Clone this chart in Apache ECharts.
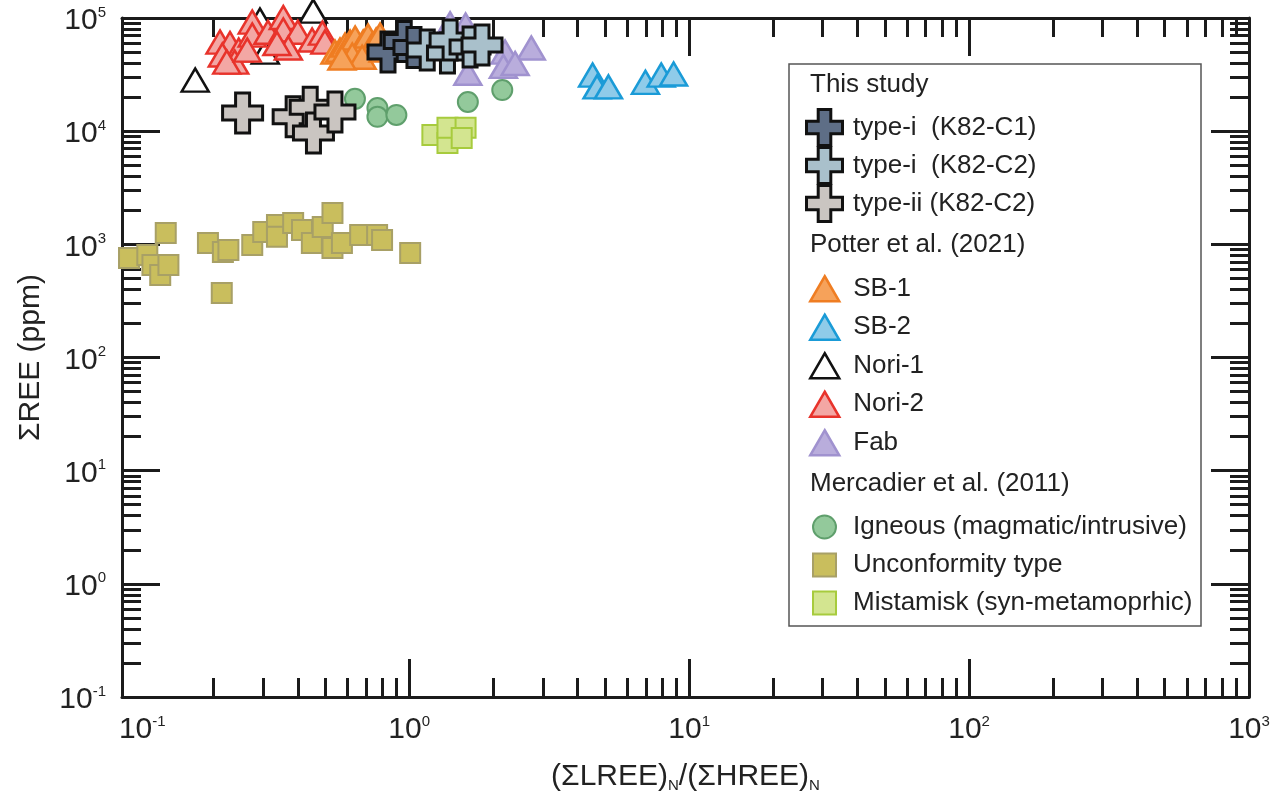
<!DOCTYPE html>
<html>
<head>
<meta charset="utf-8">
<script src="https://cdn.jsdelivr.net/npm/echarts@6/dist/echarts.min.js"></script>
<style>
  html, body { margin: 0; padding: 0; background: #ffffff; }
  #chart { width: 1272px; height: 796px; }
</style>
</head>
<body>
<div id="chart"></div>
<script>
// ---- data: [(ΣLREE)N/(ΣHREE)N, ΣREE ppm] ----
// This study
const typeI_C1 = [[0.84, 50000], [0.96, 62000], [1.04, 55000]];
const typeI_C2 = [[1.16, 52100], [1.37, 49000], [1.40, 63900], [1.65, 55500], [1.82, 57700]];
const typeII_C2 = [[0.254, 14500], [0.385, 13400], [0.443, 16300], [0.455, 9630], [0.543, 14800]];

// Potter et al. (2021)
const sb1 = [[0.543, 50000], [0.566, 52100], [0.590, 57700], [0.615, 61300], [0.641, 66600],
             [0.668, 54300], [0.685, 61300], [0.713, 69300], [0.737, 57700], [0.762, 63900],
             [0.787, 70700], [0.626, 47100], [0.679, 45000], [0.807, 52100], [0.575, 44300]];
const sb2 = [[4.52, 31300], [4.69, 24600], [5.15, 24600], [6.98, 27000], [7.95, 31300], [8.8, 32000]];
const nori1 = [[0.172, 28300], [0.293, 96000], [0.454, 115000], [0.306, 50000]];
const nori2 = [[0.211, 61300], [0.229, 59500], [0.215, 47100], [0.246, 52100], [0.238, 40800],
               [0.275, 92000], [0.275, 70700], [0.313, 74800], [0.355, 101000], [0.355, 78300],
               [0.40, 74800], [0.37, 54300], [0.337, 59500], [0.45, 63900], [0.49, 73600],
               [0.50, 61300], [0.223, 40800], [0.264, 52100]];
const fab = [[1.40, 89000], [1.59, 86700], [2.20, 50000], [2.73, 54300], [2.17, 37300],
             [2.39, 39600], [1.62, 32500]];

// Mercadier et al. (2011)
const igneous = [[0.64, 19300], [0.77, 16000], [0.77, 13400], [0.90, 13900], [1.62, 18100], [2.15, 23100]];
const unconformity = [[0.0998, 757], [0.116, 805], [0.121, 657], [0.129, 536], [0.138, 657],
                      [0.135, 1259], [0.191, 1029], [0.216, 856], [0.226, 892], [0.214, 371],
                      [0.275, 988], [0.301, 1285], [0.337, 1480], [0.337, 1165], [0.385, 1540],
                      [0.414, 1338], [0.449, 1029], [0.491, 1420], [0.532, 1890], [0.532, 929],
                      [0.575, 1029], [0.668, 1208], [0.768, 1208], [0.80, 1094], [1.008, 838]];
const mistamisk = [[1.21, 9250], [1.37, 7860], [1.37, 10700], [1.59, 10700], [1.54, 8700]];

// ---- axes ----
const X_RANGE = [0.0942, 1000];
const Y_RANGE = [0.1, 100000];
const X_LABELS = [0.1, 1, 10, 100, 1000];
const X_MAJOR = [1, 10, 100, 1000];
const Y_MAJOR = [0.1, 1, 10, 100, 1000, 10000, 100000];

function minorTicks(eFrom, eTo) {
  const out = [];
  for (let e = eFrom; e <= eTo; e++) {
    for (let k = 2; k <= 9; k++) out.push(Number((k * Math.pow(10, e)).toPrecision(6)));
  }
  return out;
}
const X_MINOR = minorTicks(-1, 2);
const Y_MINOR = minorTicks(-1, 4);

const FONT = '"Liberation Sans", Arial, Helvetica, sans-serif';
const INK = '#1b1b1b';
const TXT = '#222222';

const powRich = {
  b: { fontSize: 30, fontFamily: FONT, color: TXT, lineHeight: 32 },
  bs: { fontSize: 30, fontFamily: FONT, color: TXT, lineHeight: 32, padding: [0, 0, 0, 26] },
  p: { fontSize: 15, fontFamily: FONT, color: TXT, lineHeight: 15, verticalAlign: 'top' }
};
function powLabelX(v) {
  const e = Math.round(Math.log10(v));
  return (e === -1 ? '{bs|10}' : '{b|10}') + '{p|' + e + '}';
}
function powLabelY(v) {
  return '{b|10}{p|' + Math.round(Math.log10(v)) + '}';
}

function xAxisDef(position, major) {
  const labelled = major && position === 'bottom';
  return {
    type: 'log', logBase: 10, min: X_RANGE[0], max: X_RANGE[1], position: position,
    axisLine: { show: major, lineStyle: { color: INK, width: 3 } },
    axisTick: { show: true, inside: true, length: major ? 38 : 19,
                lineStyle: { color: INK, width: 3 }, customValues: major ? X_MAJOR : X_MINOR },
    axisLabel: { show: labelled, customValues: X_LABELS, formatter: powLabelX, rich: powRich,
                 margin: 17, hideOverlap: false },
    minorTick: { show: false }, splitLine: { show: false },
    name: labelled ? '{a|(ΣLREE)}{s|N}{a|/(ΣHREE)}{s|N}' : '',
    nameLocation: 'middle', nameGap: 64,
    nameTextStyle: {
      rich: {
        a: { fontSize: 30, fontFamily: FONT, color: TXT, lineHeight: 32 },
        s: { fontSize: 15, fontFamily: FONT, color: TXT, lineHeight: 15, verticalAlign: 'bottom' }
      }
    }
  };
}
function yAxisDef(position, major) {
  const labelled = major && position === 'left';
  return {
    type: 'log', logBase: 10, min: Y_RANGE[0], max: Y_RANGE[1], position: position,
    axisLine: { show: major, lineStyle: { color: INK, width: 3 } },
    axisTick: { show: true, inside: true, length: major ? 38 : 19,
                lineStyle: { color: INK, width: 3 }, customValues: major ? Y_MAJOR : Y_MINOR },
    axisLabel: { show: labelled, customValues: Y_MAJOR, formatter: powLabelY, rich: powRich,
                 margin: 16, padding: [6, 0, 0, 0], hideOverlap: false },
    minorTick: { show: false }, splitLine: { show: false },
    name: labelled ? 'ΣREE (ppm)' : '',
    nameLocation: 'middle', nameGap: 76,
    nameTextStyle: { fontSize: 30, fontFamily: FONT, color: TXT }
  };
}

// ---- marks ----
const CROSS = 'path://M6.5,0H13.5V6.5H20V13.5H13.5V20H6.5V13.5H0V6.5H6.5Z';
function scatter(name, data, symbol, size, fill, stroke, bw) {
  return {
    name: name, type: 'scatter', data: data, symbol: symbol, symbolSize: size,
    xAxisIndex: 0, yAxisIndex: 0, clip: false,
    itemStyle: { color: fill, borderColor: stroke, borderWidth: bw, opacity: 1 },
    emphasis: { disabled: true }
  };
}
const TRI = [27, 23];

const series = [
  scatter('Unconformity type', unconformity, 'rect', 20, '#c9be5d', '#a8a066', 2),
  scatter('Mistamisk (syn-metamoprhic)', mistamisk, 'rect', 20, '#d3e590', '#a7cb3d', 2),
  scatter('Igneous (magmatic/intrusive)', igneous, 'circle', 20, '#93c99b', '#5f9f6c', 2),
  scatter('Nori-1', nori1, 'triangle', TRI, '#ffffff', '#111111', 2.5),
  scatter('Nori-2', nori2, 'triangle', TRI, '#f3a7a4', '#e8332b', 2.5),
  scatter('SB-1', sb1, 'triangle', TRI, '#f6a25a', '#ef7d22', 2.5),
  scatter('SB-2', sb2, 'triangle', TRI, '#8fcbe9', '#1a9bd7', 2.5),
  scatter('Fab', fab, 'triangle', TRI, '#b9addc', '#a092cf', 2.5),
  scatter('type-ii (K82-C2)', typeII_C2, CROSS, 40, '#cac5c1', '#111111', 3),
  scatter('type-i  (K82-C1)', typeI_C1, CROSS, 40, '#5e6e86', '#111111', 3),
  scatter('type-i  (K82-C2)', typeI_C2, CROSS, 40, '#a9c0cb', '#111111', 3)
];

function legendGroup(names, left, top, w, h, gap, textPad, bw) {
  return {
    data: names, orient: 'vertical', left: left, top: top, padding: 0,
    itemWidth: w, itemHeight: h, itemGap: gap,
    selectedMode: false,
    textStyle: { fontSize: 26, fontFamily: FONT, color: TXT, lineHeight: 26, padding: [0, 0, 0, textPad] },
    itemStyle: { borderWidth: bw }
  };
}

const chart = echarts.init(document.getElementById('chart'), null, { renderer: 'canvas' });
chart.setOption({
  animation: false,
  backgroundColor: '#ffffff',
  grid: { left: 122, right: 23, top: 18, bottom: 99, containLabel: false, outerBoundsMode: 'none' },
  xAxis: [xAxisDef('bottom', true), xAxisDef('bottom', false), xAxisDef('top', true), xAxisDef('top', false)],
  yAxis: [yAxisDef('left', true), yAxisDef('left', false), yAxisDef('right', true), yAxisDef('right', false)],
  legend: [
    legendGroup(['type-i  (K82-C1)', 'type-i  (K82-C2)', 'type-ii (K82-C2)'], 805, 108, 37, 36, -1, 5, 3),
    legendGroup(['SB-1', 'SB-2', 'Nori-1', 'Nori-2', 'Fab'], 809, 275, 29, 25, 11, 9, 2.5),
    legendGroup(['Igneous (magmatic/intrusive)', 'Unconformity type', 'Mistamisk (syn-metamoprhic)'], 812, 514, 23, 23, 12, 12, 2)
  ],
  graphic: [
    { type: 'rect', z: 1, shape: { x: 789, y: 64, width: 412, height: 562 },
      style: { fill: '#ffffff', stroke: '#555555', lineWidth: 1.5 } },
    { type: 'text', z: 2, x: 810, y: 85,
      style: { text: 'This study', font: '26px ' + FONT, fill: TXT, verticalAlign: 'middle' } },
    { type: 'text', z: 2, x: 810, y: 245,
      style: { text: 'Potter et al. (2021)', font: '26px ' + FONT, fill: TXT, verticalAlign: 'middle' } },
    { type: 'text', z: 2, x: 810, y: 484,
      style: { text: 'Mercadier et al. (2011)', font: '26px ' + FONT, fill: TXT, verticalAlign: 'middle' } }
  ],
  series: series
});
</script>
</body>
</html>
